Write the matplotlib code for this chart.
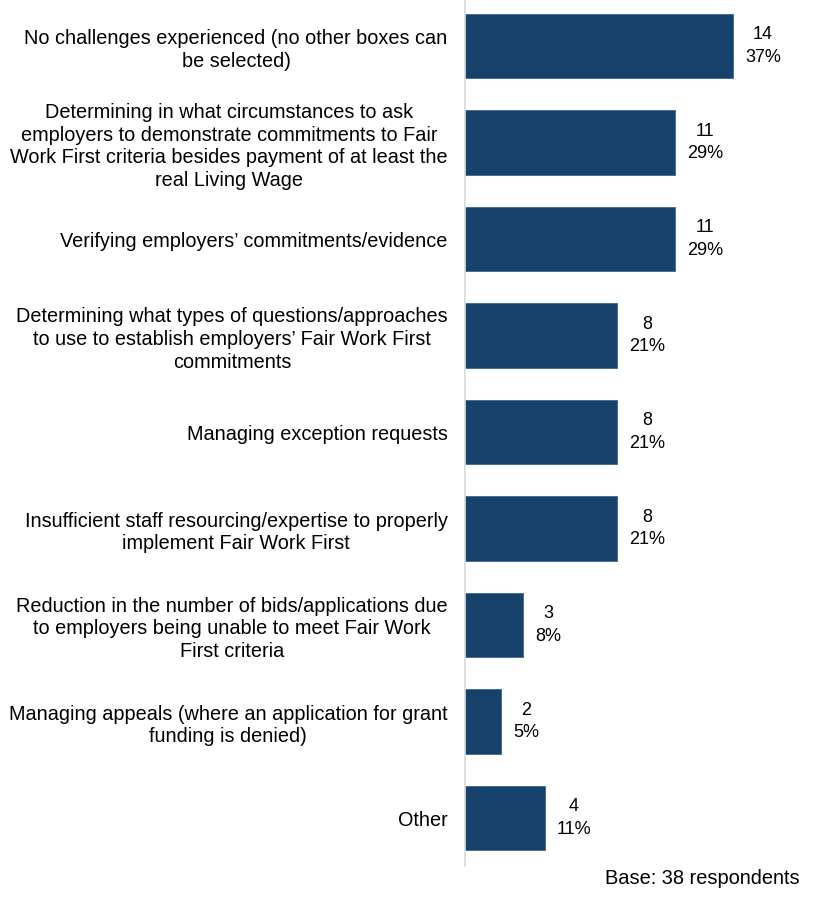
import matplotlib
matplotlib.use("Agg")
import matplotlib.pyplot as plt

plt.rcParams['font.family'] = ['Liberation Sans', 'DejaVu Sans']

categories = [
    "No challenges experienced (no other boxes can\nbe selected)",
    "Determining in what circumstances to ask\nemployers to demonstrate commitments to Fair\nWork First criteria besides payment of at least the\nreal Living Wage",
    "Verifying employers\u2019 commitments/evidence",
    "Determining what types of questions/approaches\nto use to establish employers\u2019 Fair Work First\ncommitments",
    "Managing exception requests",
    "Insufficient staff resourcing/expertise to properly\nimplement Fair Work First",
    "Reduction in the number of bids/applications due\nto employers being unable to meet Fair Work\nFirst criteria",
    "Managing appeals (where an application for grant\nfunding is denied)",
    "Other",
]
counts = [14, 11, 11, 8, 8, 8, 3, 2, 4]
percents = [37, 29, 29, 21, 21, 21, 8, 5, 11]
base_note = "Base: 38 respondents"

W, H = 814, 898
fig = plt.figure(figsize=(W / 100, H / 100), dpi=100)
ax_left, ax_right = 465, 800
ax_top, ax_bottom = 0, 866
ax = fig.add_axes([ax_left / W, 1 - ax_bottom / H, (ax_right - ax_left) / W, (ax_bottom - ax_top) / H])

bar_color = '#17426B'
y = list(range(len(categories)))
ax.barh(y, percents, height=0.665, color=bar_color, edgecolor='#3D6690', linewidth=0.6)

px_per_unit = 7.24
ax.set_xlim(0, (ax_right - ax_left) / px_per_unit)
ax.set_ylim(8.497, -0.477)

for yi, c, p in zip(y, counts, percents):
    ax.annotate(f"{c}\n{p}%", xy=(p, yi), xytext=(12, 0), textcoords='offset pixels',
                ha='left', va='center', multialignment='center', fontsize=13, color='#000000',
                linespacing=1.45)

ax.set_yticks(y)
ax.set_yticklabels(categories, fontsize=14.35, color='#000000', linespacing=1.25)
for lbl in ax.get_yticklabels():
    lbl.set_multialignment('center')
ax.tick_params(axis='y', length=0, pad=12.5)
ax.tick_params(axis='x', bottom=False, labelbottom=False)

for s in ['top', 'right', 'bottom']:
    ax.spines[s].set_visible(False)
ax.spines['left'].set_color('#D9D9D9')
ax.spines['left'].set_linewidth(1.2)

fig.text(800 / W, 1 - 878 / H, base_note, ha='right', va='center', fontsize=14.4, color='#000000')

fig.savefig('out.png', dpi=100)
